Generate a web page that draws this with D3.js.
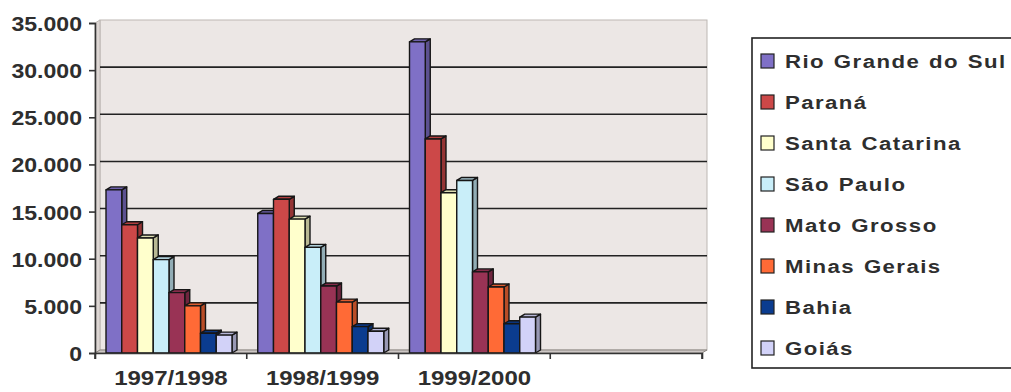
<!DOCTYPE html>
<html>
<head>
<meta charset="utf-8">
<script src="https://cdn.jsdelivr.net/npm/d3@7"></script>
<style>
  body { margin: 0; background: #fff; }
  text { font-family: "Liberation Sans", Arial, sans-serif; font-weight: bold; fill: #2e2e2e; }
</style>
</head>
<body>
<script>
// categories (4th slot is empty in the original)
let categories = ["1997/1998", "1998/1999", "1999/2000", ""];
let states = ["Rio Grande do Sul", "Paraná", "Santa Catarina", "São Paulo", "Mato Grosso", "Minas Gerais", "Bahia", "Goiás"];
let colors = ["#7f70c6", "#cc4848", "#ffffcc", "#c9eef9", "#993355", "#ff6a36", "#0b3c8f", "#d2d2f8"];

// values per state, one per season
let rioGrandeDoSul = [17300, 14800, 33000];
let parana = [13600, 16300, 22700];
let santaCatarina = [12200, 14200, 17000];
let saoPaulo = [9900, 11200, 18300];
let matoGrosso = [6400, 7100, 8600];
let minasGerais = [5000, 5400, 7000];
let bahia = [2100, 2800, 3100];
let goias = [1900, 2300, 3800];

let yTicks = [0, 5000, 10000, 15000, 20000, 25000, 30000, 35000];

let series = [rioGrandeDoSul, parana, santaCatarina, saoPaulo, matoGrosso, minasGerais, bahia, goias];

let width = 1011, height = 392;
let depthX = 5, depthY = -3; // 3d offset of the back wall

let svg = d3.select("body").append("svg").attr("width", width).attr("height", height);

let x0 = d3.scaleBand().domain(categories).range([95, 702]);
let x1 = d3.scaleBand().domain(states).range([11, 137]);
let y = d3.scaleLinear().domain([0, 35000]).range([353, 23]);

// back wall, left wall and floor
let wall = svg.append("g");
wall.append("rect")
    .attr("x", 95 + depthX).attr("y", y(35000) + depthY)
    .attr("width", 702 - 95).attr("height", y(0) - y(35000))
    .attr("fill", "#ece7e5").attr("stroke", "#bdb7b3").attr("stroke-width", 1);
wall.append("path")
    .attr("d", `M95,${y(0)} L${95 + depthX},${y(0) + depthY} L${95 + depthX},${y(35000) + depthY} L95,${y(35000)} Z`)
    .attr("fill", "#ddd6d3").attr("stroke", "#bdb7b3");
wall.append("path")
    .attr("d", `M95,${y(0)} L${95 + depthX},${y(0) + depthY} L${702 + depthX},${y(0) + depthY} L702,${y(0)} Z`)
    .attr("fill", "#cdc7c5").attr("stroke", "#8c8682");

// gridlines on the back wall
wall.selectAll(".grid")
    .data(yTicks.filter(d => d > 0 && d < 35000))
    .join("line")
    .attr("x1", 95 + depthX).attr("x2", 702 + depthX)
    .attr("y1", d => y(d) + depthY).attr("y2", d => y(d) + depthY)
    .attr("stroke", "#222").attr("stroke-width", 1.6);

// bars drawn as little boxes: front, side, top
let bars = [];
categories.forEach((c, ci) => {
    series.forEach((vals, si) => {
        if (vals[ci] === undefined) return;
        bars.push({ cat: c, state: states[si], value: vals[ci], color: colors[si] });
    });
});

let barG = svg.append("g");
let bw = x1.bandwidth();
bars.forEach(b => {
    let bx = x0(b.cat) + x1(b.state);
    let top = y(b.value), base = y(0);
    let c = d3.color(b.color);
    let g = barG.append("g").attr("stroke", "#161616").attr("stroke-width", 1.4).attr("stroke-linejoin", "round");
    g.append("path")
        .attr("d", `M${bx + bw},${base} L${bx + bw + depthX},${base + depthY} L${bx + bw + depthX},${top + depthY} L${bx + bw},${top} Z`)
        .attr("fill", c.darker(0.9));
    g.append("path")
        .attr("d", `M${bx},${top} L${bx + depthX},${top + depthY} L${bx + bw + depthX},${top + depthY} L${bx + bw},${top} Z`)
        .attr("fill", c.darker(0.4));
    g.append("rect")
        .attr("x", bx).attr("y", top).attr("width", bw).attr("height", base - top)
        .attr("fill", b.color);
});

// y axis
let yAxis = d3.axisLeft(y).tickValues(yTicks).tickSize(6)
    .tickFormat(d => d3.format(",")(d).replace(/,/g, "."));
let yAxisGroup = svg.append("g").attr("transform", "translate(95,0)");
yAxis(yAxisGroup);
yAxisGroup.select(".domain").attr("stroke", "#333").attr("stroke-width", 1.6);
yAxisGroup.selectAll(".tick line").attr("stroke", "#333").attr("stroke-width", 1.6);
yAxisGroup.selectAll("text")
    .attr("x", 0).attr("transform", "translate(-13,0) scale(1.1,1)")
    .style("font-size", "21px")
    .attr("fill", "#2e2e2e").attr("dy", "0.36em");

// x axis
let xAxis = d3.axisBottom(x0).tickSize(6).tickPadding(12);
let xAxisGroup = svg.append("g").attr("transform", `translate(0,${y(0)})`);
xAxis(xAxisGroup);
xAxisGroup.select(".domain").attr("stroke", "#333").attr("stroke-width", 1.6);
xAxisGroup.selectAll(".tick line").remove();
xAxisGroup.selectAll(".xt")
    .data(x0.domain().map(d => x0(d)).concat([702]))
    .join("line")
    .attr("x1", d => d).attr("x2", d => d)
    .attr("y1", 0).attr("y2", 6)
    .attr("stroke", "#333").attr("stroke-width", 1.6);
xAxisGroup.selectAll("text")
    .attr("transform", "scale(1.2,1)")
    .style("font-size", "20px")
    .attr("fill", "#2e2e2e");
// scale() would move the centred label; put the x back
xAxisGroup.selectAll(".tick").each(function () {
    let t = d3.select(this);
    let tx = +t.attr("transform").match(/translate\(([\d.]+)/)[1];
    t.attr("transform", `translate(${tx},0)`);
});

// legend
let legend = svg.append("g");
legend.append("rect")
    .attr("x", 752).attr("y", 38).attr("width", 280).attr("height", 330)
    .attr("fill", "#fff").attr("stroke", "#222").attr("stroke-width", 1.6);
let legendY = d3.scalePoint().domain(states).range([61, 348]);
let item = legend.selectAll(".item").data(states).join("g")
    .attr("transform", d => `translate(0,${legendY(d)})`);
item.append("rect")
    .attr("x", 761).attr("y", -7).attr("width", 13).attr("height", 14)
    .attr("fill", (d, i) => colors[i]).attr("stroke", "#222").attr("stroke-width", 1.2);
item.append("text")
    .attr("transform", "translate(785,0) scale(1.2,1)")
    .attr("dy", "0.36em")
    .style("font-size", "18.5px").style("letter-spacing", "1.2px").style("word-spacing", "1px")
    .text(d => d);
</script>
</body>
</html>
